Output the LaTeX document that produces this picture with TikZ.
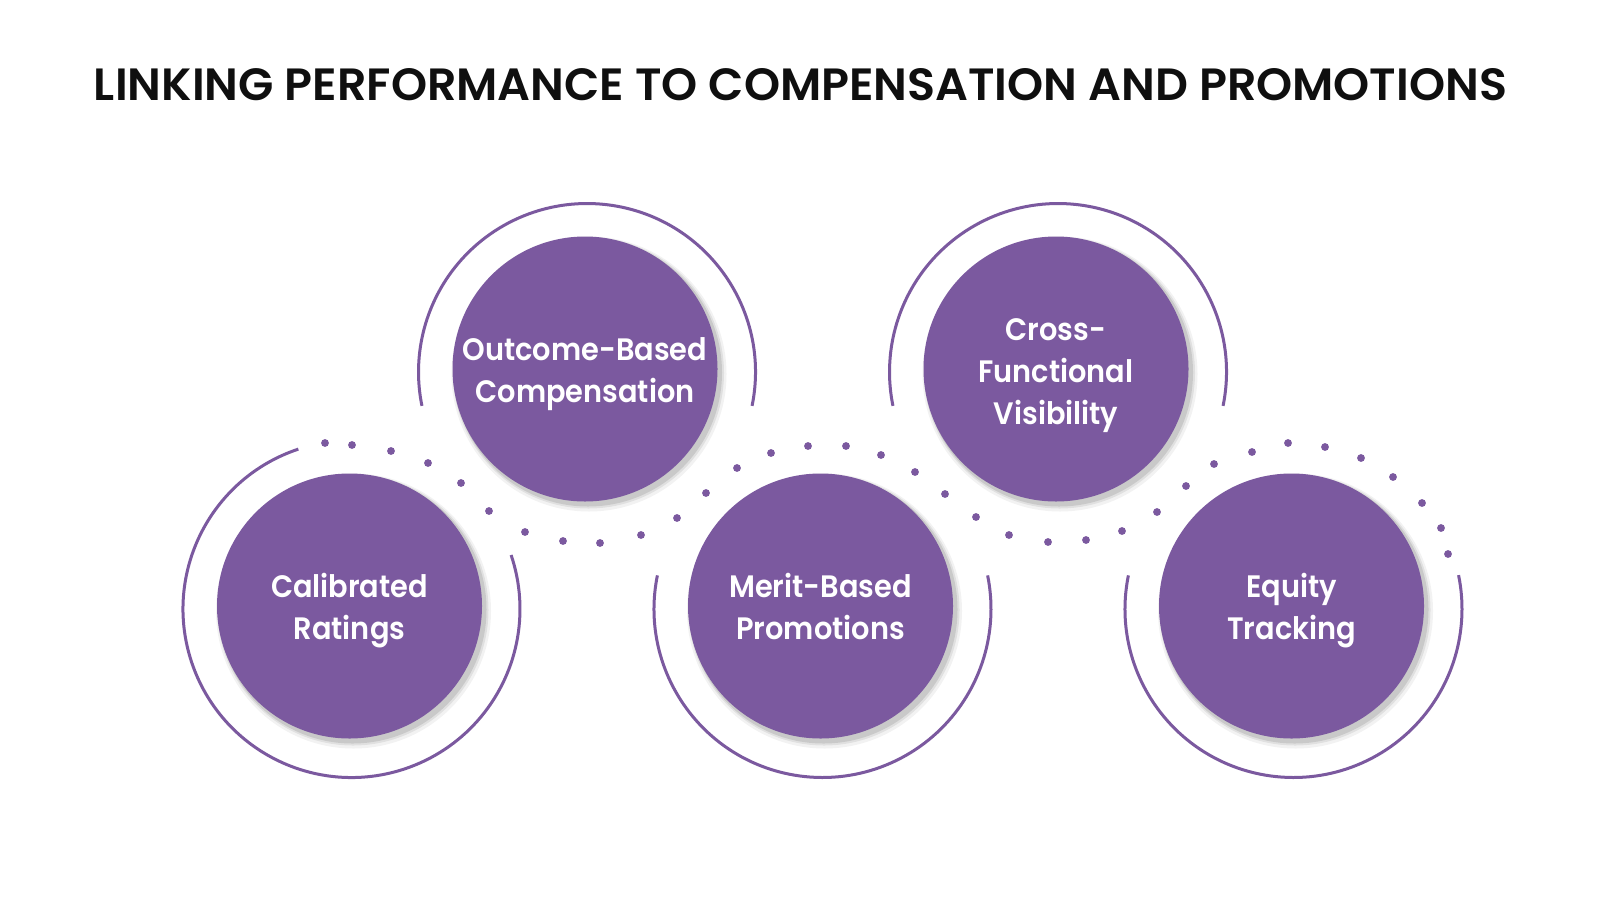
\documentclass[tikz,border=0pt]{standalone}
\usepackage{graphicx}
\usepackage{fontspec}
\setmainfont{Poppins}
\newfontfamily\lblfont{Poppins SemiBold}[FakeStretch=0.93]
\newfontfamily\ttlfont{Poppins SemiBold}
\usetikzlibrary{calc}
\definecolor{purp}{RGB}{123,89,159}
\definecolor{ttl}{RGB}{15,15,15}
\begin{document}
\begin{tikzpicture}[x=1pt,y=-1pt,
  disc/.style={circle, fill=purp, minimum size=265pt, inner sep=0pt},
  lbl/.style={text=white, align=center, inner sep=0pt, yshift=-5pt,
    font=\lblfont\fontsize{31}{42}\selectfont},
  ringline/.style={draw=purp, line width=3pt},
  dotmark/.style={fill=purp}]
\useasboundingbox[fill=white] (0,0) rectangle (1600,900);

% title
\node[inner sep=0pt, text=ttl] (title) at (800.5,85)
  {\resizebox{1413pt}{32pt}{\ttlfont LINKING PERFORMANCE TO COMPENSATION AND PROMOTIONS}};

% ring centres
\coordinate (r1) at (351.5,609);
\coordinate (r2) at (587,372);
\coordinate (r3) at (822.5,609);
\coordinate (r4) at (1058,372);
\coordinate (r5) at (1293.5,609);

% rings (visual angles a -> b counter-clockwise; y axis is flipped)
\draw[ringline] (r1) ++(-108.4:168.5) arc[start angle=-108.4, end angle=-378.7, radius=168.5];
\draw[ringline] (r2) ++(11.6:168.5) arc[start angle=11.6, end angle=-191.6, radius=168.5];
\draw[ringline] (r3) ++(-168.5:168.5) arc[start angle=-168.5, end angle=-371.5, radius=168.5];
\draw[ringline] (r4) ++(11.6:168.5) arc[start angle=11.6, end angle=-191.6, radius=168.5];
\draw[ringline] (r5) ++(-168.5:168.5) arc[start angle=-168.5, end angle=-371.6, radius=168.5];

% dotted wave
\foreach \p in {(325,443),(352,445),(391,451),(428,463),(461,483),(489,511),
  (525,532),(563,541),(600,543),(641,535),(677,518),(706,493),
  (737,468),(771,453),(808,446),(846,446),(881,455),(915,472),(945,494),
  (976,517),(1009,535),(1048,542),(1086,540),(1122,531),(1157,512),
  (1186,486),(1214,464),(1252,452),(1288,443),(1325,447),(1361,458),
  (1393,477),(1422,503),(1441,528),(1448,554)}
  \fill[dotmark] \p circle[radius=3.9];

% shadows
\foreach \c in {r1,r2,r3,r4,r5}{
  \fill[black, opacity=0.05] ($(\c)+(2,2)$) circle[radius=137.5];
  \fill[black, opacity=0.07] ($(\c)+(1.5,1)$) circle[radius=135.5];
  \fill[black, opacity=0.10] ($(\c)+(1,0.5)$) circle[radius=134];
}

% discs
\node[disc] (cal) at ($(r1)+(-2,-3)$) {};
\node[disc] (out) at ($(r2)+(-2,-3)$) {};
\node[disc] (mer) at ($(r3)+(-2,-3)$) {};
\node[disc] (cro) at ($(r4)+(-2,-3)$) {};
\node[disc] (equ) at ($(r5)+(-2,-3)$) {};

% labels
\node[lbl] (calt) at (cal) {Calibrated\\Ratings\vphantom{g}};
\node[lbl] (outt) at (out) {Outcome-Based\\Compensation\vphantom{g}};
\node[lbl] (mert) at (mer) {Merit-Based\\Promotions\vphantom{g}};
\node[lbl, yshift=-2pt] (crot) at (cro) {Cross-\\Functional\\Visibility\vphantom{g}};
\node[lbl] (equt) at (equ) {Equity\\Tracking\vphantom{g}};
\end{tikzpicture}
\end{document}
